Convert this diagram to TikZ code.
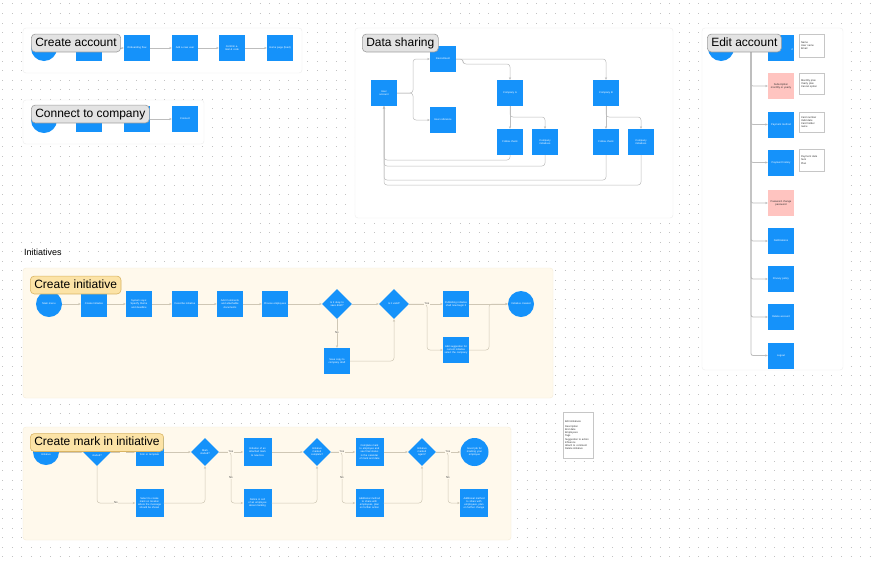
\documentclass[tikz,border=0pt]{standalone}
\usepackage{fontspec}
\setmainfont{Liberation Sans}
\usetikzlibrary{shapes.geometric,arrows.meta}
\definecolor{bblue}{HTML}{1592FA}
\definecolor{pinkbox}{HTML}{FFC4C0}
\definecolor{dotc}{HTML}{C2C2C2}
\definecolor{panelb}{HTML}{EDEDED}
\definecolor{yel}{HTML}{FFF9EC}
\definecolor{yelb}{HTML}{F6EED9}
\definecolor{conn}{HTML}{BDBDBD}
\definecolor{tconn}{HTML}{CFC7B5}
\definecolor{titlefill}{HTML}{E3E3E3}
\definecolor{titledraw}{HTML}{9E9E9E}
\definecolor{yfill}{HTML}{FCE3A6}
\definecolor{ydraw}{HTML}{D9B463}
\tikzset{
  tiny/.style={font=\fontsize{2.6}{3.1}\selectfont},
  box/.style={tiny, fill=bblue, minimum width=26pt, minimum height=26pt, inner sep=0.5pt, text width=23pt, align=center, text=white},
  mbox/.style={box, minimum width=28pt, minimum height=28pt, text width=25pt},
  pbox/.style={box, fill=pinkbox, text=black!80},
  circ/.style={tiny, circle, fill=bblue, minimum size=26pt, inner sep=0pt, text width=20pt, align=center, text=white},
  dia/.style={tiny, diamond, aspect=1, fill=bblue, minimum width=30pt, minimum height=30pt, inner sep=0pt, text width=15pt, align=center, text=white},
  mdia/.style={dia, minimum width=28pt, minimum height=28pt, text width=14pt},
  note/.style={tiny, draw=gray!45, fill=white, line width=0.4pt, minimum width=25pt, text width=21pt, inner xsep=2pt, align=left, text=black!80},
  title/.style={draw=titledraw, fill=titlefill, rounded corners=4pt, line width=0.6pt, font=\fontsize{12}{14}\selectfont, inner xsep=4pt, inner ysep=3.2pt, text height=9pt, text depth=2.5pt, anchor=west},
  ytitle/.style={title, fill=yfill, draw=ydraw},
  arr/.style={-{Stealth[length=2.6pt,width=2.2pt]}, draw=conn, line width=0.5pt, rounded corners=3pt},
  tarr/.style={arr, draw=tconn},
  lbl/.style={font=\fontsize{2.8}{3}\selectfont, fill=yel, inner sep=0.4pt, text=black!70},
  panel/.style={fill=white, draw=panelb, line width=0.4pt, rounded corners=3pt},
  ypanel/.style={fill=yel, draw=yelb, line width=0.4pt, rounded corners=3pt}
}
\begin{document}
\begin{tikzpicture}[x=1pt,y=-1pt]
\useasboundingbox[fill=white] (0,0) rectangle (874,563);
% dot grid
\foreach \j in {0,...,58} {
  \draw[dotc, line width=0.9pt, dash pattern=on 0.9pt off 8.63pt] (2.35,{3.9+9.53*\j}) -- (874,{3.9+9.53*\j});
}
% panels
\draw[panel] (23,28) rectangle (302,73);
\draw[panel] (23,100) rectangle (204,144);
\draw[panel] (355,28) rectangle (673,218);
\draw[panel] (702,28) rectangle (843,370);
\draw[ypanel] (23,268) rectangle (553,398);
\draw[ypanel] (23,427) rectangle (511,540);

\node[font=\fontsize{9}{11}\selectfont, anchor=west, inner sep=0pt] (initl) at (24,252) {Initiatives};

% ---------- Create account
\node[circ] (cac) at (44,48) {};
\node[box] (ca1) at (89,48) {};
\node[box] (ca2) at (137,48) {Onboarding flow};
\node[box] (ca3) at (185,48) {Add a new user};
\node[box] (ca4) at (232,48) {Confirm e-mail \& code};
\node[box] (ca5) at (280,48) {Home page (feed)};
\draw[arr] (cac) -- (ca1);
\draw[arr] (ca1) -- (ca2);
\draw[arr] (ca2) -- (ca3);
\draw[arr] (ca3) -- (ca4);
\draw[arr] (ca4) -- (ca5);

% ---------- Connect to company
\node[circ] (ccc) at (44,120) {};
\node[box] (cc1) at (89,119) {};
\node[box] (cc2) at (137,119) {};
\node[box] (cc3) at (185,119) {Connect};
\draw[arr] (ccc) -- (cc1);
\draw[arr] (cc1) -- (cc2);
\draw[arr] (cc2) -- (cc3);

% ---------- Data sharing
\node[box] (dsu) at (384,93) {User\\account};
\node[box] (dsa) at (443,59) {Recruitment};
\node[box] (dsb) at (443,120) {User reference};
\node[box] (dsca) at (510,93) {Company A};
\node[box] (dscb) at (606,93) {Company B};
\node[box] (dsfa) at (510,142) {Follow check};
\node[box] (dsia) at (545,142) {Company\\initiatives};
\node[box] (dsfb) at (606,142) {Follow check};
\node[box] (dsib) at (641,142) {Company\\initiatives};
\coordinate (dssp) at (413,93);
\draw[arr] (dsu.east) -- (dssp) |- (dsa.west);
\draw[arr] (dsu.east) -- (dssp) |- (dsb.west);
\draw[arr] (dsa.east) -| (463,64) -| (dsca.north);
\draw[arr] (dsa.east) -| (dscb.north);
\draw[arr] (dsca.south) -- (dsfa.north);
\draw[arr] (dsca.south) -- (510,117) -| (dsia.north);
\draw[arr] (dscb.south) -- (dsfb.north);
\draw[arr] (dscb.south) -- (606,117) -| (dsib.north);
\draw[arr] (dsfa.south) |- (384,160) -- (dsu.south);
\draw[arr] (dsia.south) |- (384,166) -- (dsu.south);
\draw[arr] (dsfb.south) |- (384,180) -- (dsu.south);
\draw[arr] (dsib.south) |- (384,185) -- (dsu.south);

% ---------- Edit account
\node[circ] (eac) at (721,48) {};
\node[box, text width=8pt, align=right, anchor=east] (ea1) at (794,48) {};
\node[tiny, text=white, anchor=east, inner sep=0.5pt] (ea1t) at (793.5,50) {d};
\node[pbox] (ea2) at (781,86) {Subscription\\monthly or yearly};
\node[box] (ea3) at (781,124.5) {Payment method};
\node[box] (ea4) at (781,162.5) {Payment history};
\node[pbox] (ea5) at (781,203) {Password change\\password};
\node[box] (ea6) at (781,241) {Notifications};
\node[box] (ea7) at (781,279) {Privacy policy};
\node[box] (ea8) at (781,317) {Delete account};
\node[box] (ea9) at (781,355.5) {Logout};
\coordinate (etr) at (751,48);
\draw[arr] (eac) -- (ea1);
\foreach \k in {2,...,9} {
  \draw[arr, line width=0.8pt, rounded corners=2pt] (eac.east) -- (etr) |- (ea\k.west);
}
\node[note, minimum height=23pt] (en1) at (811.5,45.5) {Name\\User name\\Email};
\node[note, minimum height=21pt] (en2) at (811.5,83.5) {Monthly plan\\Yearly plan\\Cancel option};
\node[note, minimum height=20pt] (en3) at (811.5,122) {Card number\\Valid date\\Card holder name};
\node[note, minimum height=22pt] (en4) at (811.5,160) {Payment date\\Sum\\Plan};

% ---------- Create initiative
\node[circ] (ic) at (49,304) {Main menu};
\node[box] (ib1) at (94,304) {Create Initiative};
\node[box] (ib2) at (139,304) {System says: Specify theme and deadline};
\node[box] (ib3) at (185,304) {Describe initiative};
\node[box] (ib4) at (230,304) {Add Comments and attachable documents};
\node[box] (ib5) at (275,304) {Choose employees};
\node[dia] (id1) at (337,304) {Is it okay to save draft?};
\node[dia] (id2) at (394,304) {Is it valid?};
\node[box] (ibx) at (337,361) {Save copy to company draft};
\node[box] (ib6) at (456,304) {Publishing initiative shall now begin it};
\node[box] (ib7) at (456,350) {Add suggestion for current initiative select the company};
\node[circ] (ie) at (521,304) {Initiative created};
\draw[tarr] (ic) -- (ib1);
\draw[tarr] (ib1) -- (ib2);
\draw[tarr] (ib2) -- (ib3);
\draw[tarr] (ib3) -- (ib4);
\draw[tarr] (ib4) -- (ib5);
\draw[tarr] (ib5) -- (id1);
\draw[tarr] (id1) -- (id2);
\draw[tarr] (id1.south) -- node[lbl, pos=0.45] {No} (ibx.north);
\draw[tarr] (ibx.east) -| (id2.south);
\coordinate (isp) at (427,304);
\draw[tarr] (id2.east) -- (ib6.west);
\draw[tarr] (id2.east) -- (isp) |- (ib7.west);
\node[lbl] (iyes) at (427,304) {Yes};
\draw[tarr] (ib6.east) -- (ie.west);
\draw[tarr] (ib7.east) -| (489,304) -- (ie.west);

% ---------- Create mark in initiative
\node[circ] (mc) at (46,452) {};
\node[tiny, text=white, inner sep=0pt] (mct) at (46,455) {Initiative};
\node[mdia] (md1) at (97,452) {};
\node[tiny, text=white, inner sep=0pt] (md1t) at (97,455.5) {started?};
\node[mbox] (mb1) at (149.5,452) {Choose employees and/or entry form or template};
\node[mbox] (mbx1) at (149.5,503) {Select to create mark on location where the message should be shown};
\node[mdia] (md2) at (205,452) {Mark started?};
\node[mbox] (mb2) at (257.5,452) {Initiation of an attached mark to new box};
\node[mbox] (mbx2) at (257.5,503) {Notice in cell of an employee about marking};
\node[mdia] (md3) at (317,452) {Initiative marked complete?};
\node[mbox] (mb3) at (369.5,452) {Complete mark to employee and see final status in the calendar of mark and date};
\node[mbox] (mbx3) at (369.5,503) {Additional method to share with employees, plan on further action};
\node[mdia] (md4) at (422,452) {Initiative marked again?};
\node[circ, minimum size=28pt] (me) at (474.5,452) {Good job for marking your employee};
\node[mbox] (mbx4) at (474,503) {Additional method to share with employees, plan on further change};
\draw[tarr] (mc) -- (md1);
\draw[tarr] (md1) -- (mb1);
\draw[tarr] (md1.south) |- (mbx1.west);
\node[lbl] (ml1y) at (123,452) {Yes};
\node[lbl] (ml1n) at (116,503) {No};
\draw[tarr] (mb1) -- (md2);
\draw[tarr] (mbx1.east) -| (md2.south);
\draw[tarr] (md2) -- (mb2);
\draw[tarr] (md2.east) -- (231,452) |- (mbx2.west);
\node[lbl] (ml2y) at (231,452) {Yes};
\node[lbl] (ml2n) at (231,478) {No};
\draw[tarr] (mb2) -- (md3);
\draw[tarr] (mbx2.east) -| (md3.south);
\draw[tarr] (md3) -- (mb3);
\draw[tarr] (md3.east) -- (342,452) |- (mbx3.west);
\node[lbl] (ml3y) at (342,452) {Yes};
\node[lbl] (ml3n) at (342,478) {No};
\draw[tarr] (mb3) -- (md4);
\draw[tarr] (mbx3.east) -| (md4.south);
\draw[tarr] (md4) -- (me);
\draw[tarr] (md4.east) -- (448,452) |- (mbx4.west);
\node[lbl] (ml4y) at (448,452) {Yes};
\node[lbl] (ml4n) at (448,478) {No};

% legend note
\node[note, minimum width=30pt, minimum height=46pt, text width=26pt] (leg) at (578,435) {Edit initiatives\\[2pt]Description\\End date\\Employees\\Tags\\Suggestion to action\\Influence\\Attach to comment\\Delete initiative};

% ---------- titles on top
\node[title] (tca) at (31,43) {Create account};
\node[title] (tcc) at (31,114) {Connect to company};
\node[title] (tds) at (362,43) {Data sharing};
\node[title] (tea) at (707,43) {Edit account};
\node[ytitle] (tci) at (30,285) {Create initiative};
\node[ytitle] (tcm) at (30,442.5) {Create mark in initiative};
\end{tikzpicture}
\end{document}
